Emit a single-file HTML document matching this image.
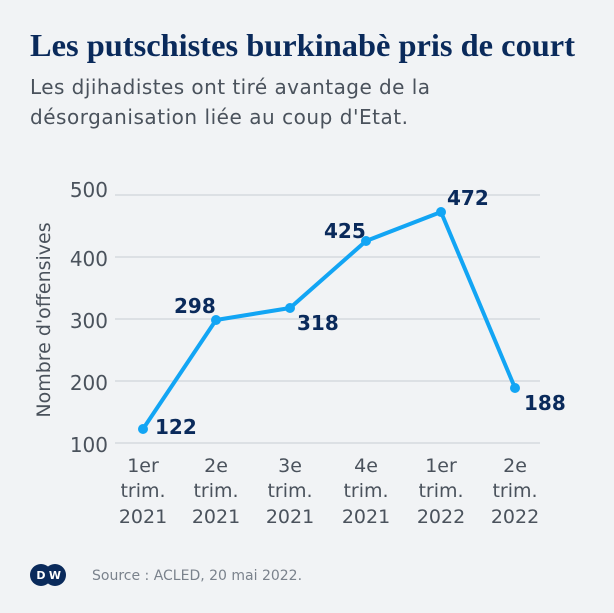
<!DOCTYPE html>
<html><head><meta charset="utf-8"><style>
body{margin:0;width:614px;height:609px;background:#f1f3f5;overflow:hidden;font-family:"DejaVu Sans","Liberation Sans",sans-serif}
</style></head><body>
<svg width="614" height="609" xmlns="http://www.w3.org/2000/svg">
<rect width="614" height="609" fill="#f1f3f5"/>
<text x="30" y="56" font-family="Liberation Serif,serif" font-weight="bold" font-size="32" fill="#0a2a5b" textLength="545" lengthAdjust="spacingAndGlyphs">Les putschistes burkinabè pris de court</text>
<text x="30" y="94" font-size="20" fill="#4a525c" textLength="400">Les djihadistes ont tiré avantage de la</text>
<text x="30" y="124" font-size="20" fill="#4a525c" textLength="378">désorganisation liée au coup d'Etat.</text>
<g stroke="#d5d9de" stroke-width="1.5">
<line x1="115" y1="195" x2="540" y2="195"/><line x1="115" y1="257" x2="540" y2="257"/>
<line x1="115" y1="319" x2="540" y2="319"/><line x1="115" y1="381" x2="540" y2="381"/>
<line x1="115" y1="443" x2="540" y2="443"/></g>
<g font-size="20" fill="#4a525c" text-anchor="end">
<text x="108" y="197">500</text><text x="108" y="266">400</text><text x="108" y="328">300</text><text x="108" y="390">200</text><text x="108" y="452">100</text></g>
<text transform="translate(50,320) rotate(-90)" font-size="19" fill="#4a525c" text-anchor="middle">Nombre d'offensives</text>
<polyline points="143,429 216,320 290,308 366,241 441,212 515,388" fill="none" stroke="#12a5f4" stroke-width="4" stroke-linejoin="round"/>
<g fill="#12a5f4"><circle cx="143" cy="429" r="5"/><circle cx="216" cy="320" r="5"/><circle cx="290" cy="308" r="5"/><circle cx="366" cy="241" r="5"/><circle cx="441" cy="212" r="5"/><circle cx="515" cy="388" r="5"/></g>
<g font-size="20" font-weight="bold" fill="#0a2a5b">
<text x="155" y="434">122</text><text x="174" y="313">298</text><text x="297" y="330">318</text><text x="324" y="238">425</text><text x="447" y="205">472</text><text x="524" y="410">188</text></g>
<g font-size="19" fill="#4a525c" text-anchor="middle">
<text x="143" y="472">1er</text><text x="143" y="497">trim.</text><text x="143" y="523">2021</text>
<text x="216" y="472">2e</text><text x="216" y="497">trim.</text><text x="216" y="523">2021</text>
<text x="290" y="472">3e</text><text x="290" y="497">trim.</text><text x="290" y="523">2021</text>
<text x="366" y="472">4e</text><text x="366" y="497">trim.</text><text x="366" y="523">2021</text>
<text x="441" y="472">1er</text><text x="441" y="497">trim.</text><text x="441" y="523">2022</text>
<text x="515" y="472">2e</text><text x="515" y="497">trim.</text><text x="515" y="523">2022</text></g>
<circle cx="41" cy="575" r="11" fill="#0a2a5b"/><circle cx="55" cy="575" r="11" fill="#0a2a5b"/>
<text x="41" y="579" font-size="11" font-weight="bold" fill="#fff" text-anchor="middle">D</text>
<text x="55" y="579" font-size="11" font-weight="bold" fill="#fff" text-anchor="middle">W</text>
<text x="92" y="580" font-size="14" fill="#7a828c">Source : ACLED, 20 mai 2022.</text>
</svg>
</body></html>
